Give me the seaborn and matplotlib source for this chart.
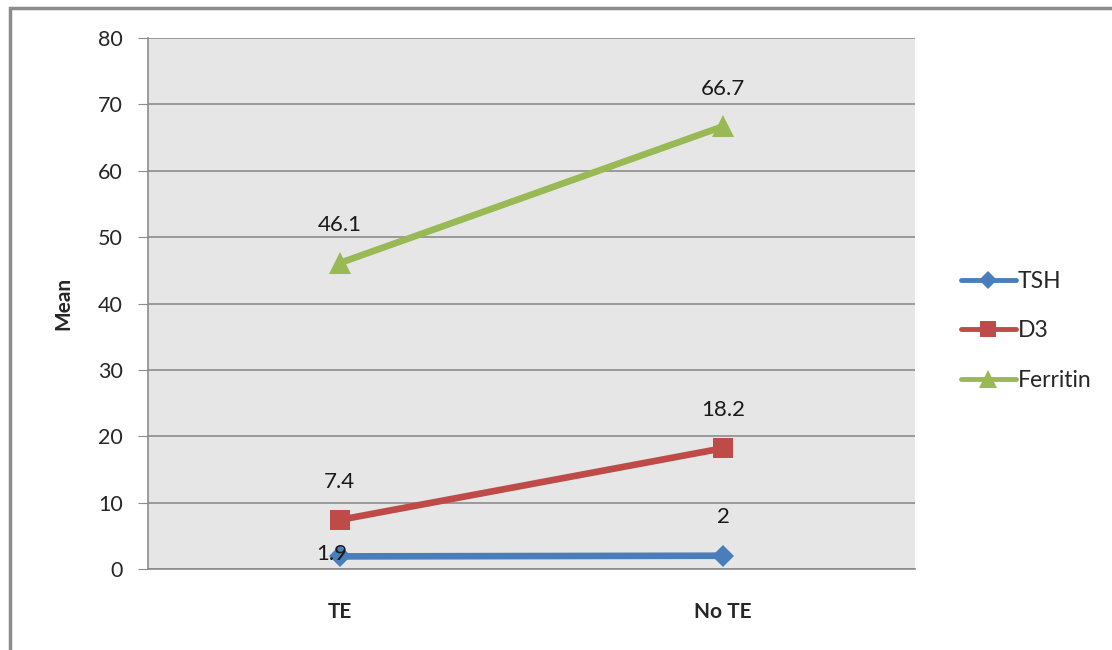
import matplotlib
matplotlib.use("Agg")
import matplotlib.pyplot as plt
import seaborn as sns
import pandas as pd
from matplotlib.lines import Line2D
from matplotlib.patches import Rectangle

categories = ["TE", "No TE"]
series_names = ["TSH", "D3", "Ferritin"]
tsh = [1.9, 2]
d3 = [7.4, 18.2]
ferritin = [46.1, 66.7]
y_ticks = [0, 10, 20, 30, 40, 50, 60, 70, 80]

colors = {"TSH": "#4A7EBB", "D3": "#BE4B48", "Ferritin": "#98B954"}
markers = {"TSH": "D", "D3": "s", "Ferritin": "^"}
msize = {"TSH": 11, "D3": 14, "Ferritin": 16}

rows = []
for name, vals in zip(series_names, [tsh, d3, ferritin]):
    for i, (c, v) in enumerate(zip(categories, vals)):
        rows.append({"pos": i, "category": c, "series": name, "value": v})
df = pd.DataFrame(rows)

sns.set_style("white")
plt.rcParams["font.family"] = ["Lato", "DejaVu Sans"]

W, H = 1112, 650
fig = plt.figure(figsize=(W / 100, H / 100), dpi=100)
ax = fig.add_axes([148 / W, 1 - 569 / H, (915 - 148) / W, (569 - 38) / H])
ax.set_facecolor("#E6E6E6")

sns.lineplot(data=df, x="pos", y="value", hue="series", style="series",
             hue_order=series_names, palette=colors, markers=markers,
             dashes=False, linewidth=4.8, ax=ax, legend=False, zorder=3)
for line, name in zip(ax.get_lines(), series_names):
    line.set_markersize(msize[name])
    line.set_markeredgewidth(0)

# data labels
for name, vals in zip(series_names, [tsh, d3, ferritin]):
    for i, v in enumerate(vals):
        if name == "TSH" and i == 0:
            off = (-6, 2)
            va = "center"
        elif name == "TSH":
            off = (0, 21)
            va = "bottom"
        else:
            off = (0, 20)
            va = "bottom"
        ax.annotate(f"{v:g}", (i, v), xytext=off, textcoords="offset points",
                    ha="center", va=va, fontsize=16, color="#1a1a1a", zorder=5)

ax.set_xlim(-0.5, 1.5)
ax.set_ylim(0, 80)
ax.set_yticks(y_ticks)
ax.set_yticklabels([str(t) for t in y_ticks], fontsize=15.5)
ax.yaxis.grid(True, color="#8C8C8C", linewidth=1.2)
ax.set_axisbelow(True)

ax.set_xticks([-0.5, 0.5, 1.5])
ax.set_xticklabels(["", "", ""])
ax.set_xticks([0, 1], minor=True)
ax.set_xticklabels(categories, minor=True, fontsize=15, fontweight="bold")
ax.tick_params(axis="x", which="minor", length=0, pad=24)
ax.tick_params(axis="x", which="major", length=7, color="#8C8C8C", direction="out")
ax.tick_params(axis="y", length=7, color="#8C8C8C", direction="out", pad=11, left=True)
ax.set_xlabel("")
ax.set_ylabel("Mean", fontsize=15, fontweight="bold", labelpad=18)

for side in ["top", "right"]:
    ax.spines[side].set_visible(False)
for side in ["left", "bottom"]:
    ax.spines[side].set_color("#8C8C8C")
    ax.spines[side].set_linewidth(1.2)

handles = [Line2D([0], [0], color=colors[n], marker=markers[n], lw=3.5,
                  markersize=msize[n] * 0.85, markeredgewidth=0) for n in series_names]
fig.legend(handles, series_names, loc="center left",
           bbox_to_anchor=(940 / W, 1 - 331 / H), frameon=False, fontsize=16.5,
           handlelength=2.4, handletextpad=0.1, labelspacing=1.25)

fig.patches.append(Rectangle((10 / W, -0.1), 1.2, (1 - 8 / H) + 0.1,
                             transform=fig.transFigure, fill=False,
                             edgecolor="#8C8C8C", linewidth=2.5, zorder=0))

fig.savefig("out.png", dpi=100)
